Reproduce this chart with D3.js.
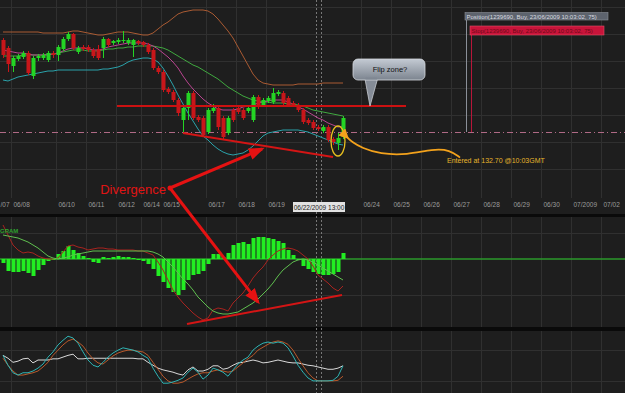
<!DOCTYPE html>
<html>
<head>
<meta charset="utf-8">
<script src="https://cdn.jsdelivr.net/npm/d3@7"></script>
<style>
body { margin: 0; background: #1e1e1e; }
svg { display: block; font-family: "Liberation Sans", Arial, sans-serif; }
</style>
</head>
<body>
<script>
// 4 hour candles (one value per candle)
var opens = [137.30,136.90,136.00,136.35,136.45,136.65,135.50,136.40,136.40,136.30,
  136.65,136.55,136.85,137.35,137.60,136.70,136.95,136.95,136.80,136.85,
  136.90,137.35,137.15,137.20,137.25,137.15,137.05,137.25,137.20,137.05,
  136.80,135.90,135.70,134.85,134.70,134.30,133.30,133.90,134.65,133.45,
  133.40,132.70,133.75,133.90,133.40,132.65,133.80,133.90,133.80,133.75,
  133.30,134.45,134.05,134.25,134.20,134.60,134.65,134.40,134.15,134.05,
  133.80,133.30,133.20,132.95,132.75,132.95,132.35,132.15,132.45];
var highs = [137.40,137.00,136.50,136.60,136.75,136.75,136.50,136.60,136.65,136.75,
  136.75,137.05,137.45,137.70,137.65,137.00,137.05,137.05,136.90,137.05,
  137.45,137.40,137.30,137.40,137.75,137.40,137.35,137.30,137.25,137.15,
  136.90,136.00,135.80,134.95,134.80,134.40,134.00,134.75,134.75,133.55,
  133.50,133.90,134.10,134.00,133.50,133.50,133.90,134.00,133.90,134.05,
  134.55,134.55,134.40,134.50,134.90,134.80,134.75,134.50,134.25,134.15,
  133.90,133.40,133.30,133.05,133.05,133.05,132.45,132.65,133.50];
var lows = [136.40,135.70,135.70,136.25,136.35,135.55,135.35,136.25,136.30,136.20,
  136.40,136.25,136.75,137.25,136.80,136.60,136.75,136.70,136.40,136.30,
  136.40,136.95,137.05,137.10,137.15,137.05,136.45,137.05,136.95,136.60,
  135.80,135.60,134.70,134.60,134.20,133.50,132.65,133.30,133.30,133.20,
  132.45,132.60,133.65,132.80,132.35,132.55,133.20,133.60,133.30,133.65,
  133.20,133.85,133.95,134.15,134.10,134.50,134.05,133.95,133.95,133.70,
  133.10,133.05,132.80,132.75,132.65,132.20,132.05,131.80,132.35];
var closes = [136.55,136.10,136.40,136.50,136.65,135.65,136.40,136.50,136.55,136.65,
  136.55,136.95,137.35,137.60,136.90,136.90,136.85,136.80,136.50,136.40,
  137.35,137.05,137.25,137.30,137.30,137.30,137.30,137.15,137.05,136.70,
  135.90,135.70,134.80,134.70,134.30,133.65,133.90,134.65,133.40,133.30,
  132.55,133.80,133.90,132.95,132.45,133.40,133.30,133.70,133.40,133.90,
  134.45,133.95,134.30,134.40,134.65,134.70,134.15,134.05,134.05,133.80,
  133.20,133.15,132.90,132.85,132.95,132.30,132.20,132.40,133.40];

// bollinger bands + moving average
var bbUpper = [137.70,137.70,137.70,137.70,137.70,137.70,137.70,137.70,137.65,137.65,
  137.65,137.65,137.65,137.70,137.75,137.75,137.70,137.65,137.60,137.55,
  137.55,137.60,137.65,137.70,137.70,137.70,137.65,137.60,137.55,137.55,
  137.65,137.85,138.05,138.20,138.40,138.60,138.70,138.75,138.80,138.80,
  138.80,138.75,138.60,138.35,138.05,137.75,137.40,136.95,136.50,136.05,
  135.60,135.30,135.15,135.10,135.05,135.05,135.05,135.05,135.05,135.10,
  135.10,135.10,135.10,135.10,135.15,135.15,135.15,135.15,135.15];
var bbMiddle = [136.50,136.50,136.50,136.50,136.55,136.55,136.55,136.55,136.55,136.60,
  136.60,136.65,136.70,136.75,136.80,136.80,136.80,136.75,136.75,136.75,
  136.80,136.85,136.85,136.90,136.90,136.95,136.95,137.00,137.00,137.00,
  137.00,136.95,136.90,136.80,136.65,136.50,136.35,136.20,136.05,135.95,
  135.80,135.65,135.50,135.35,135.15,134.95,134.80,134.65,134.50,134.40,
  134.30,134.25,134.20,134.20,134.15,134.15,134.15,134.10,134.10,134.05,
  134.00,133.90,133.80,133.75,133.70,133.65,133.60,133.55,133.50];
var bbLower = [135.30,135.25,135.35,135.45,135.50,135.55,135.60,135.65,135.70,135.75,
  135.75,135.80,135.80,135.80,135.80,135.80,135.80,135.80,135.80,135.80,
  135.85,135.85,135.90,135.95,136.05,136.20,136.30,136.35,136.40,136.40,
  136.35,136.20,135.90,135.50,135.05,134.55,134.10,133.65,133.25,132.85,
  132.50,132.30,132.05,131.85,131.70,131.60,131.55,131.60,131.65,131.80,
  132.00,132.25,132.50,132.65,132.70,132.75,132.80,132.80,132.80,132.80,
  132.75,132.70,132.60,132.50,132.40,132.30,132.20,132.10,132.05];
var maLine = [136.80,136.75,136.70,136.65,136.65,136.60,136.55,136.55,136.55,136.55,
  136.60,136.65,136.75,136.85,136.90,136.90,136.90,136.85,136.80,136.80,
  136.85,136.95,137.00,137.05,137.10,137.15,137.15,137.15,137.15,137.10,
  137.00,136.85,136.65,136.45,136.20,135.90,135.50,135.15,134.85,134.60,
  134.35,134.15,134.00,133.85,133.80,133.80,133.80,133.85,133.95,134.00,
  134.05,134.15,134.20,134.25,134.30,134.30,134.30,134.20,134.10,133.95,
  133.85,133.70,133.55,133.40,133.30,133.15,133.05,132.95,133.00];

// MACD panel
var macdHist = [-0.04,-0.12,-0.13,-0.13,-0.12,-0.14,-0.17,-0.11,-0.06,-0.02,
  -0.01,0.05,0.08,0.13,0.09,0.06,0.03,0.01,-0.03,-0.04,
  0.02,0.01,0.02,0.03,0.02,0.02,0.01,0.00,-0.02,-0.05,
  -0.10,-0.17,-0.23,-0.29,-0.33,-0.36,-0.31,-0.21,-0.16,-0.15,
  -0.12,-0.05,0.05,0.05,0.02,0.06,0.14,0.16,0.17,0.15,
  0.21,0.22,0.22,0.21,0.20,0.18,0.16,0.09,0.04,0.00,
  -0.07,-0.10,-0.13,-0.15,-0.16,-0.16,-0.15,-0.13,0.06];
var macdSignal = [0.24,0.23,0.22,0.21,0.19,0.17,0.14,0.11,0.07,0.03,
  0.01,0.00,0.01,0.02,0.04,0.05,0.06,0.07,0.08,0.08,
  0.08,0.08,0.08,0.08,0.08,0.08,0.08,0.08,0.08,0.08,
  0.07,0.05,0.02,-0.03,-0.08,-0.14,-0.20,-0.25,-0.31,-0.38,
  -0.43,-0.48,-0.52,-0.54,-0.55,-0.55,-0.54,-0.53,-0.50,-0.47,
  -0.44,-0.40,-0.35,-0.30,-0.24,-0.17,-0.11,-0.07,-0.03,-0.01,
  0.00,-0.01,-0.03,-0.06,-0.09,-0.12,-0.15,-0.18,-0.21];
var macdLine = [0.34,0.24,0.14,0.09,0.06,0.07,0.06,0.03,0.01,0.00,
  0.00,0.01,0.07,0.13,0.14,0.12,0.11,0.09,0.10,0.11,
  0.11,0.10,0.10,0.09,0.09,0.09,0.09,0.08,0.08,0.06,
  0.04,-0.03,-0.11,-0.21,-0.31,-0.38,-0.44,-0.49,-0.54,-0.58,
  -0.61,-0.59,-0.51,-0.49,-0.50,-0.52,-0.44,-0.39,-0.34,-0.27,
  -0.19,-0.13,-0.08,-0.01,0.04,0.08,0.10,0.11,0.10,0.08,
  0.04,0.00,-0.07,-0.16,-0.20,-0.24,-0.29,-0.32,-0.27];

// stochastic panel
var stochK = [58,41,28,24,28,28,31,36,43,55,
  64,76,84,91,88,79,64,50,41,38,
  46,55,62,67,71,69,67,64,58,53,
  36,22,10,10,12,15,19,29,36,29,
  17,24,36,33,29,22,33,43,50,55,
  67,74,79,81,79,81,79,71,57,41,
  29,19,14,14,14,14,15,22,40];
var stochD = [53,41,31,24,24,26,28,31,38,46,
  58,67,76,83,86,81,74,62,52,45,
  43,50,57,62,65,67,67,65,64,58,
  46,34,22,14,10,10,12,17,22,26,
  28,28,31,33,31,29,31,38,45,52,
  58,67,72,77,81,83,81,77,67,53,
  40,28,19,14,14,14,14,15,22];
var stochSlow = [58,53,46,48,52,53,45,50,50,50,
  52,52,55,58,60,52,52,53,53,53,
  53,53,53,53,53,53,53,52,52,46,
  41,36,33,31,29,26,24,33,38,31,
  31,34,40,40,34,36,41,45,46,48,
  50,48,45,46,48,50,48,46,45,45,
  43,41,40,38,36,34,34,36,40];

// date labels, placed at candle index of the day boundary
// (the first one is cut by the left edge in the original, only "/07" shows)
var tickLabels = ["/07","06/08","06/10","06/11","06/12","06/14","06/15","06/17","06/18","06/19",
  "06/24","06/25","06/26","06/27","06/28","06/29","06/30","07/2009","07/02"];
var tickIdx = [-1.0,1.6,10.6,16.6,22.6,27.6,31.6,40.6,46.6,52.6,
  71.6,77.6,83.6,89.6,95.6,101.6,107.6,113.6,119.6];

var entryPrice = 132.70, flipPrice = 134.00;

var width = 625, height = 393;
var svg = d3.select("body").append("svg")
  .attr("width", width)
  .attr("height", height);

svg.append("rect").attr("width", width).attr("height", height).attr("fill", "#1e1e1e");

var x = d3.scaleLinear().domain([0, 68]).range([3, 343]);
var yP = d3.scaleLinear().domain([129.45, 139.30]).range([197, 0]);
var yM = d3.scaleLinear().domain([-0.6, 0.4]).range([319, 219]);
var yS = d3.scaleLinear().domain([0, 100]).range([389, 331]);

var panels = [[0, 198], [217, 327], [331, 393]];
var gridCol = "#303030";

// vertical grid
panels.forEach(function (p) {
  svg.append("g").selectAll("line").data(tickIdx.slice(1)).enter().append("line")
    .attr("x1", function (d) { return Math.round(x(d)) + 0.5; })
    .attr("x2", function (d) { return Math.round(x(d)) + 0.5; })
    .attr("y1", p[0]).attr("y2", p[1])
    .attr("stroke", gridCol);
});

// horizontal grid
var priceGrid = [138.95, 137.60, 136.25, 134.90, 133.55, 132.20, 130.85];
var macdGrid = [0.26, -0.36];
var stochGrid = [67, 14];
function hgrid(vals, sc) {
  svg.append("g").selectAll("line").data(vals).enter().append("line")
    .attr("x1", 0).attr("x2", width)
    .attr("y1", function (d) { return Math.round(sc(d)) + 0.5; })
    .attr("y2", function (d) { return Math.round(sc(d)) + 0.5; })
    .attr("stroke", gridCol);
}
hgrid(priceGrid, yP);
hgrid(macdGrid, yM);
hgrid(stochGrid, yS);

// panel separators
svg.append("rect").attr("x", 0).attr("y", 214).attr("width", width).attr("height", 3).attr("fill", "#0a0a0a");
svg.append("rect").attr("x", 0).attr("y", 327).attr("width", width).attr("height", 4).attr("fill", "#0a0a0a");

// cursor dashed verticals
[62.6, 63.6].forEach(function (c) {
  svg.append("line")
    .attr("x1", Math.round(x(c)) + 0.5).attr("x2", Math.round(x(c)) + 0.5)
    .attr("y1", 0).attr("y2", height)
    .attr("stroke", "#777").attr("stroke-dasharray", "2,2");
});

// entry level (dash dot)
svg.append("line")
  .attr("x1", 0).attr("x2", width)
  .attr("y1", Math.round(yP(entryPrice)) + 0.5).attr("y2", Math.round(yP(entryPrice)) + 0.5)
  .attr("stroke", "#b06a86").attr("stroke-dasharray", "6,3,1,3");

var idx = d3.range(opens.length);
function drawLine(vals, sc, col, w) {
  var line = d3.line()
    .x(function (d) { return x(d); })
    .y(function (d) { return sc(vals[d]); });
  svg.append("path").attr("d", line(idx))
    .attr("fill", "none").attr("stroke", col).attr("stroke-width", w || 1);
}

// price indicators
drawLine(bbUpper, yP, "#a95a32");
drawLine(bbMiddle, yP, "#3fa83f");
drawLine(bbLower, yP, "#2aa2aa");
drawLine(maLine, yP, "#b8448f");

// candles
var candles = svg.append("g");
idx.forEach(function (i) {
  var up = closes[i] >= opens[i];
  var col = up ? "#24d424" : "#c8161a";
  var cx = Math.round(x(i)) + 0.5;
  candles.append("line")
    .attr("x1", cx).attr("x2", cx)
    .attr("y1", yP(highs[i])).attr("y2", yP(lows[i]))
    .attr("stroke", col);
  var top = yP(Math.max(opens[i], closes[i]));
  var bot = yP(Math.min(opens[i], closes[i]));
  candles.append("rect")
    .attr("x", cx - 2).attr("y", top)
    .attr("width", 4).attr("height", Math.max(1, bot - top))
    .attr("fill", col);
});

// flip level and support trend line
svg.append("line")
  .attr("x1", x(22.8)).attr("x2", x(80.6))
  .attr("y1", yP(flipPrice)).attr("y2", yP(flipPrice))
  .attr("stroke", "#cc1111").attr("stroke-width", 2);
svg.append("line")
  .attr("x1", x(36)).attr("y1", yP(132.65))
  .attr("x2", x(66)).attr("y2", yP(131.45))
  .attr("stroke", "#d41515").attr("stroke-width", 2);

// entry ellipse
svg.append("ellipse")
  .attr("cx", x(67)).attr("cy", yP(132.25))
  .attr("rx", 7).attr("ry", 15)
  .attr("fill", "none").attr("stroke", "#e8c020").attr("stroke-width", 1.3);

// defs
var defs = svg.append("defs");
defs.append("marker").attr("id", "redHead")
  .attr("markerUnits", "userSpaceOnUse")
  .attr("markerWidth", 16).attr("markerHeight", 12)
  .attr("refX", 13).attr("refY", 6).attr("orient", "auto")
  .append("path").attr("d", "M0,0 L16,6 L0,12 Z").attr("fill", "#e51212");
defs.append("marker").attr("id", "orangeHead")
  .attr("markerUnits", "userSpaceOnUse")
  .attr("markerWidth", 10).attr("markerHeight", 10)
  .attr("refX", 2).attr("refY", 5).attr("orient", "auto")
  .append("path").attr("d", "M10,0 L0,5 L10,10 Z").attr("fill", "#f3a21c");
var grad = defs.append("linearGradient").attr("id", "bubble")
  .attr("x1", 0).attr("y1", 0).attr("x2", 0).attr("y2", 1);
grad.append("stop").attr("offset", "0%").attr("stop-color", "#c3cad3");
grad.append("stop").attr("offset", "100%").attr("stop-color", "#7c848f");

// flip zone callout
var bx0 = x(70), bx1 = x(84.4), by0 = yP(136.35), by1 = yP(135.30);
svg.append("path")
  .attr("d", "M" + x(72.4) + "," + (by1 - 1) + " L" + x(73.4) + "," + yP(flipPrice) +
    " L" + x(74.9) + "," + (by1 - 1) + " Z")
  .attr("fill", "#858c97").attr("stroke", "#c8ccd2").attr("stroke-width", 0.8);
svg.append("rect")
  .attr("x", bx0).attr("y", by0).attr("width", bx1 - bx0).attr("height", by1 - by0)
  .attr("rx", 5).attr("fill", "url(#bubble)")
  .attr("stroke", "#d4d8de").attr("stroke-width", 0.8);
svg.append("path")
  .attr("d", "M" + (x(72.4) + 0.6) + "," + (by1 - 1.5) + " L" + (x(74.9) - 0.6) + "," + (by1 - 1.5))
  .attr("stroke", "#7f8792").attr("stroke-width", 2);
svg.append("text")
  .attr("x", (bx0 + bx1) / 2 + 1).attr("y", (by0 + by1) / 2 + 2.5)
  .attr("text-anchor", "middle").attr("font-size", "7.5px").attr("fill", "#111")
  .text("Flip zone?");

// orange arrow to entry candle
var orangePts = [[91.4, 131.42], [89.4, 131.80], [86.0, 131.85], [80.8, 131.55],
  [75.4, 131.60], [71.8, 131.90], [69.8, 132.20], [68.9, 132.42]];
var curve = d3.line()
  .x(function (d) { return x(d[0]); })
  .y(function (d) { return yP(d[1]); })
  .curve(d3.curveBasis);
svg.append("path").attr("d", curve(orangePts))
  .attr("fill", "none").attr("stroke", "#f3a21c").attr("stroke-width", 1.8)
  .attr("marker-end", "url(#orangeHead)");
svg.append("text")
  .attr("x", x(88.8)).attr("y", yP(131.16))
  .attr("font-size", "7px").attr("fill", "#e6b52c")
  .text("Entered at 132.70 @10:03GMT");

// order labels
var posX = x(92.6), stopX = x(93.6);
svg.append("line")
  .attr("x1", Math.round(posX) + 0.5).attr("x2", Math.round(posX) + 0.5)
  .attr("y1", 19).attr("y2", yP(entryPrice))
  .attr("stroke", "#8a8f98");
svg.append("line")
  .attr("x1", Math.round(stopX) + 0.5).attr("x2", Math.round(stopX) + 0.5)
  .attr("y1", 35).attr("y2", yP(entryPrice))
  .attr("stroke", "#b8163a");
svg.append("rect").attr("x", posX - 1).attr("y", 12.5).attr("width", 143).attr("height", 7.5)
  .attr("fill", "#5d636d").attr("stroke", "#8a8f98").attr("stroke-width", 0.6);
svg.append("text").attr("x", posX + 0.5).attr("y", 18.5)
  .attr("font-size", "6px").attr("fill", "#d8dbe0")
  .text("Position(1239690, Buy, 23/06/2009 10:03:02, 75)");
svg.append("rect").attr("x", stopX - 1).attr("y", 26).attr("width", 134).attr("height", 9)
  .attr("fill", "#c8143a").attr("stroke", "#e0506a").attr("stroke-width", 0.6);
svg.append("text").attr("x", stopX + 0.5).attr("y", 32.8)
  .attr("font-size", "6px").attr("fill", "#6e0a18")
  .text("Stop(1239690, Buy, 23/06/2009 10:03:02, 75)");

// x axis
var xAxis = d3.axisBottom(x)
  .tickValues(tickIdx)
  .tickFormat(function (d, i) { return tickLabels[i]; })
  .tickSize(0);
var ax = svg.append("g")
  .attr("class", "x axis")
  .attr("transform", "translate(0,203)")
  .call(xAxis);
ax.select(".domain").remove();
ax.selectAll("text")
  .attr("text-anchor", "start").attr("dx", "2").attr("dy", "0.2em")
  .attr("font-size", "6.5px").attr("font-family", "Liberation Sans, Arial, sans-serif")
  .attr("fill", "#9c9c9c");

// cursor date box
var curX = x(63.2);
svg.append("rect").attr("x", curX - 26).attr("y", 202).attr("width", 52).attr("height", 10)
  .attr("fill", "#e2e2e2");
svg.append("text").attr("x", curX).attr("y", 209.5)
  .attr("text-anchor", "middle").attr("font-size", "6.5px").attr("fill", "#222")
  .text("06/22/2009 13:00");

// MACD
svg.append("line").attr("x1", 0).attr("x2", width)
  .attr("y1", yM(0)).attr("y2", yM(0))
  .attr("stroke", "#2b9a2b").attr("stroke-width", 1.6);
svg.append("g").selectAll("rect").data(idx).enter().append("rect")
  .attr("x", function (i) { return Math.round(x(i)) - 1.5; })
  .attr("y", function (i) { return Math.min(yM(0), yM(macdHist[i])); })
  .attr("width", 4)
  .attr("height", function (i) { return Math.max(1, Math.abs(yM(macdHist[i]) - yM(0))); })
  .attr("fill", "#22ee22");
drawLine(macdLine, yM, "#a8231f");
drawLine(macdSignal, yM, "#5fbf4f");
svg.append("text").attr("x", 0).attr("y", 233)
  .attr("font-size", "6px").attr("font-weight", "bold").attr("fill", "#2fa02f")
  .text("GRAM");
svg.append("line")
  .attr("x1", x(36.8)).attr("y1", yM(-0.65))
  .attr("x2", x(67.8)).attr("y2", yM(-0.36))
  .attr("stroke", "#d41515").attr("stroke-width", 2);

// stochastic
drawLine(stochSlow, yS, "#d8d8d8");
drawLine(stochD, yS, "#b8582a");
drawLine(stochK, yS, "#2eb4b4");

// divergence arrows
var divX = x(33.4), divY = yP(129.90);
svg.append("line")
  .attr("x1", divX).attr("y1", divY).attr("x2", x(51.8)).attr("y2", yP(131.85))
  .attr("stroke", "#e51212").attr("stroke-width", 3).attr("marker-end", "url(#redHead)");
svg.append("line")
  .attr("x1", divX).attr("y1", divY).attr("x2", x(51.0)).attr("y2", yM(-0.43))
  .attr("stroke", "#e51212").attr("stroke-width", 3).attr("marker-end", "url(#redHead)");
svg.append("circle").attr("cx", divX).attr("cy", divY).attr("r", 2.5).attr("fill", "#e51212");
svg.append("text")
  .attr("x", divX - 4).attr("y", divY + 6)
  .attr("text-anchor", "end").attr("font-size", "13px").attr("fill", "#e01414")
  .text("Divergence");
</script>
</body>
</html>
